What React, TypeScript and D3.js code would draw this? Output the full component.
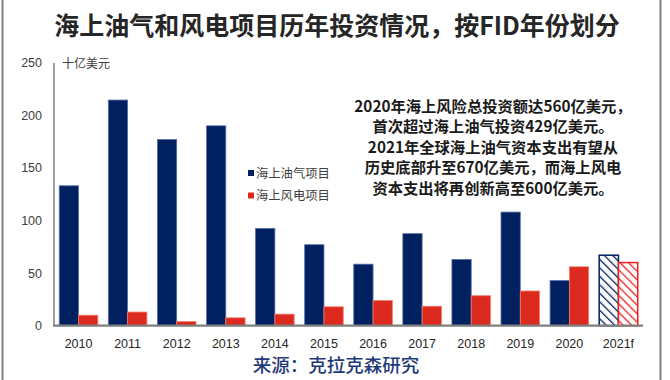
import React from "react";
import * as d3 from "d3";

const years = ["2010", "2011", "2012", "2013", "2014", "2015", "2016", "2017", "2018", "2019", "2020", "2021f"];
const oilGas = [133, 214.5, 177, 190, 92.5, 77, 58.5, 87.5, 63, 108, 42.9, 67];
const wind = [10, 13, 4, 7.5, 11, 18, 24, 18.5, 28.5, 33, 56, 60];
const yTicks = [0, 50, 100, 150, 200, 250];
const seriesNames = ["海上油气项目", "海上风电项目"];
const forecastYear = "2021f";
const noteLines = [
  "2020年海上风险总投资额达560亿美元，",
  "首次超过海上油气投资429亿美元。",
  "2021年全球海上油气资本支出有望从",
  "历史底部升至670亿美元，而海上风电",
  "资本支出将再创新高至600亿美元。",
];

const NAVY = "#002060";
const RED = "#DC2A1F";
const CJK = "'Noto Sans CJK SC', 'Noto Sans', sans-serif";
const LAT = "'Liberation Sans', Arial, sans-serif";

export default function App() {
  const x = d3.scaleBand<string>().domain(years).range([54, 643]).paddingInner(0.214).paddingOuter(0.107);
  const y = d3.scaleLinear().domain([0, 250]).range([325.7, 62.7]);
  const bw = x.bandwidth() / 2;
  const base = y(0);

  return (
    <svg width={670} height={380} style={{ position: "absolute", left: 0, top: 0, background: "#fff" }}>
      <defs>
        <pattern id="hatchNavy" width={6} height={6} patternUnits="userSpaceOnUse" patternTransform="rotate(-45)">
          <rect width={6} height={6} fill="#fff" />
          <line x1={0} y1={0} x2={0} y2={6} stroke={NAVY} strokeWidth={2.6} />
        </pattern>
        <pattern id="hatchRed" width={6} height={6} patternUnits="userSpaceOnUse" patternTransform="rotate(-45)">
          <rect width={6} height={6} fill="#fff" />
          <line x1={0} y1={0} x2={0} y2={6} stroke="#F02020" strokeWidth={2.6} />
        </pattern>
      </defs>
      {/* frame */}
      <line x1={2.5} x2={2.5} y1={0} y2={380} stroke="#7f7f7f" strokeWidth={2} />
      <line x1={660.5} x2={660.5} y1={0} y2={380} stroke="#7f7f7f" strokeWidth={2} />

      {/* title */}
      <text x={337} y={35} textAnchor="middle" fontFamily={CJK} fontWeight={700} fontSize={25} fill="#262626">
        海上油气和风电项目历年投资情况，按FID年份划分
      </text>

      {/* y ticks */}
      {yTicks.map((t) => (
        <text key={t} x={42} y={y(t) + 4.5} textAnchor="end" fontFamily={LAT} fontSize={12.5} fill="#404040">
          {t}
        </text>
      ))}
      <text x={62} y={68} fontFamily={CJK} fontSize={12} fill="#404040">十亿美元</text>

      {/* bars */}
      {years.map((yr, i) => {
        const x0 = x(yr)!;
        const fc = yr === forecastYear;
        return (
          <g key={yr}>
            <rect x={x0} y={y(oilGas[i])} width={bw} height={base - y(oilGas[i])}
              fill={fc ? "url(#hatchNavy)" : NAVY} stroke={fc ? NAVY : "#5a70a8"} strokeWidth={fc ? 1.5 : 0.8} />
            <rect x={x0 + bw} y={y(wind[i])} width={bw} height={base - y(wind[i])}
              fill={fc ? "url(#hatchRed)" : RED} stroke={fc ? "#F02020" : "#f08070"} strokeWidth={fc ? 1.5 : 0.8} />
            <text x={x0 + bw} y={348} textAnchor="middle" fontFamily={LAT} fontSize={12.5} fill="#262626">
              {yr}
            </text>
          </g>
        );
      })}

      {/* axes */}
      <line x1={54} x2={54} y1={63} y2={base} stroke="#808080" strokeWidth={1.5} />
      <line x1={53} x2={643} y1={base} y2={base} stroke="#7f7f7f" strokeWidth={2.2} />

      {/* legend */}
      <rect x={248} y={170} width={6} height={6} fill={NAVY} />
      <text x={256} y={177.5} fontFamily={CJK} fontSize={12.3} fill="#404040">{seriesNames[0]}</text>
      <rect x={248} y={192.5} width={6} height={6} fill={RED} />
      <text x={256} y={200} fontFamily={CJK} fontSize={12.3} fill="#404040">{seriesNames[1]}</text>

      {/* annotation */}
      {noteLines.map((l, i) => (
        <text key={i} x={493} y={112 + i * 20.4} textAnchor="middle" fontFamily={CJK} fontWeight={700} fontSize={15.3} fill="#1a1a1a">
          {l}
        </text>
      ))}

      {/* source */}
      <text x={336} y={372} textAnchor="middle" fontFamily={CJK} fontWeight={500} fontSize={18.5} fill="#1F3A78">
        来源：克拉克森研究
      </text>
    </svg>
  );
}
